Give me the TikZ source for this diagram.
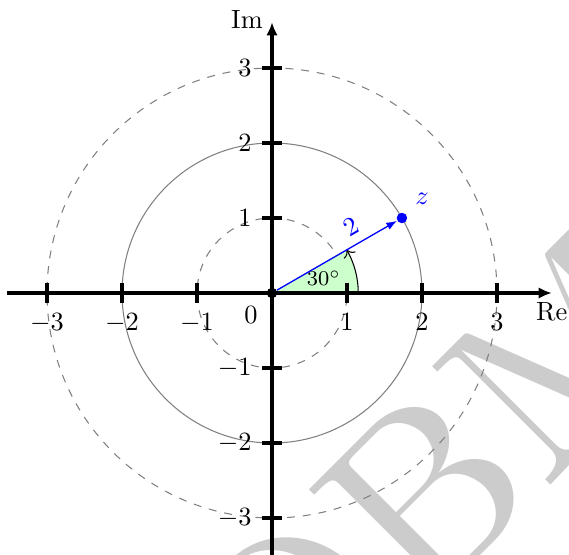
\documentclass[tikz,border=0pt]{standalone}
\usetikzlibrary{arrows.meta}

\begin{document}
\begin{tikzpicture}[
  axisline/.style={very thick,-{Latex[length=5pt,width=4.4pt]}},
  tickmark/.style={very thick},
  ring/.style={gray,thin},
  dashring/.style={gray,thin,dashed},
  dotnode/.style={circle,fill,inner sep=0pt,minimum size=1.4mm},
  vec/.style={blue,line width=0.5pt,-{Latex[length=4pt,width=3pt]}},
  wmark/.style={text=black!20,rotate=45,inner sep=0pt,anchor=base west},
]
\useasboundingbox (-3.627,-3.493) rectangle (3.96,3.907);

% ---------- watermark ----------
\node[wmark] (mark) at (0.19,-6.09) {\scalebox{9.3}{OBM}};

% ---------- circles |z| = 1, 2, 3 ----------
\draw[dashring] (0,0) circle (1);
\draw[ring] (0,0) circle (2);
\draw[dashring] (0,0) circle (3);

% ---------- angle ----------
\fill[green!20] (0,0) -- (1.15,0) arc (0:30:1.15) -- cycle;
\draw[->] (1.15,0) arc (0:30:1.15);
\node[font=\footnotesize] (ang) at (0.69,0.2) {$30^\circ$};

% ---------- axes ----------
\coordinate (xl) at (-3.53,0);
\coordinate (xr) at (3.73,0);
\coordinate (yb) at (0,-3.6);
\coordinate (yt) at (0,3.61);
\draw[axisline] (xl) -- (xr);
\draw[axisline] (yb) -- (yt);
\node[below] (re) at (xr) {Re};
\node[left] (im) at (0,3.65) {Im};
\foreach \k in {-3,-2,-1,1,2,3}{
  \draw[tickmark] (\k,-0.13) -- (\k,0.13);
  \draw[tickmark] (-0.13,\k) -- (0.13,\k);
  \node[below] (lx\k) at (\k,-0.15) {$\k$};
  \node[left] (ly\k) at (-0.15,\k) {$\k$};
}
\node[anchor=north east] (zero) at (-0.07,-0.06) {$0$};

% ---------- z ----------
\node[dotnode] (o) at (0,0) {};
\node[dotnode,blue] (z) at (30:2) {};
\draw[vec] (o) -- (z) node[pos=0.69,above,sloped] (r) {$2$};
\node[above right,blue] (zl) at (z.north east) {$z$};

\end{tikzpicture}
\end{document}
